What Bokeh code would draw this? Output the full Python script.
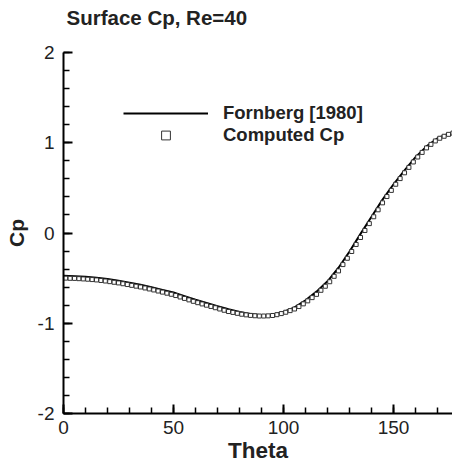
from bokeh.plotting import figure
from bokeh.models import Range1d, Legend, LegendItem, FixedTicker, PrintfTickFormatter, Title
from bokeh.embed import file_html
from bokeh.resources import INLINE

# Fornberg [1980] reference curve
theta_ref = [0, 5, 10, 15, 20, 25, 30, 35, 40, 45, 50, 55, 60, 65, 70, 75, 80, 85, 90,
             95, 100, 105, 110, 115, 120, 125, 130, 135, 140, 145, 150, 155, 160, 165,
             170, 175, 180]
cp_ref = [-0.475, -0.478, -0.485, -0.495, -0.51, -0.528, -0.55, -0.573, -0.60, -0.63,
          -0.66, -0.70, -0.74, -0.775, -0.81, -0.845, -0.875, -0.898, -0.91,
          -0.905, -0.875, -0.825, -0.745, -0.65, -0.535, -0.385, -0.205, -0.01, 0.18,
          0.37, 0.54, 0.695, 0.84, 0.96, 1.05, 1.10, 1.13]

# Computed Cp
theta_cmp = list(range(1, 180, 2))
cp_cmp = [-0.500, -0.502, -0.503, -0.506, -0.509, -0.512, -0.516, -0.520, -0.526, -0.532,
          -0.539, -0.546, -0.553, -0.562, -0.571, -0.580, -0.589, -0.598, -0.609, -0.620,
          -0.631, -0.643, -0.655, -0.667, -0.679, -0.693, -0.709, -0.725, -0.741, -0.757,
          -0.772, -0.786, -0.800, -0.814, -0.828, -0.842, -0.856, -0.870, -0.880, -0.890,
          -0.900, -0.907, -0.913, -0.917, -0.920, -0.920, -0.918, -0.914, -0.905, -0.893,
          -0.878, -0.860, -0.842, -0.815, -0.785, -0.752, -0.716, -0.680, -0.635, -0.590,
          -0.540, -0.480, -0.420, -0.350, -0.280, -0.205, -0.127, -0.050, 0.028, 0.104,
          0.180, 0.257, 0.334, 0.404, 0.472, 0.540, 0.603, 0.667, 0.727, 0.787,
          0.842, 0.893, 0.943, 0.982, 1.020, 1.050, 1.072, 1.093, 1.107, 1.120]

x_ticks = [0, 50, 100, 150]
y_ticks = [-2, -1, 0, 1, 2]

FONT = "Liberation Sans"
TXT = "#222222"

p = figure(width=452, height=468, output_backend="svg", toolbar_location=None,
           x_range=Range1d(0, 176.8), y_range=Range1d(-2, 2),
           min_border_left=63, min_border_right=0, min_border_top=52, min_border_bottom=55)

# spacer between the frame and the title, then the title itself
p.add_layout(Title(text=" ", text_font=FONT, text_font_size="17.5px", standoff=0), "above")
p.add_layout(Title(text="Surface Cp, Re=40", text_font=FONT, text_font_size="20.5px",
                   text_font_style="bold", text_color=TXT, align="left",
                   vertical_align="top", offset=3, standoff=0), "above")

p.grid.visible = False
p.outline_line_color = None
p.background_fill_color = "white"
p.border_fill_color = "white"

for ax in (p.xaxis[0], p.yaxis[0]):
    ax.axis_line_color = "black"
    ax.axis_line_width = 2
    ax.major_tick_in = 9
    ax.major_tick_out = 0
    ax.minor_tick_in = 6
    ax.minor_tick_out = 0
    ax.major_tick_line_width = 2
    ax.minor_tick_line_width = 1.5
    ax.major_tick_line_color = "black"
    ax.minor_tick_line_color = "black"
    ax.major_label_text_font = FONT
    ax.major_label_text_font_size = "19px"
    ax.major_label_text_color = TXT
    ax.axis_label_text_font = FONT
    ax.axis_label_text_font_style = "bold"
    ax.axis_label_text_color = TXT
    ax.formatter = PrintfTickFormatter(format="%d")

p.xaxis[0].ticker = FixedTicker(ticks=x_ticks, minor_ticks=list(range(0, 181, 10)))
p.yaxis[0].ticker = FixedTicker(ticks=y_ticks, minor_ticks=[round(-2 + 0.2 * i, 1) for i in range(21)])
p.xaxis[0].axis_label = "Theta"
p.yaxis[0].axis_label = "Cp"
p.xaxis[0].axis_label_text_font_size = "22.5px"
p.yaxis[0].axis_label_text_font_size = "21px"
p.xaxis[0].major_label_standoff = 7
p.yaxis[0].major_label_standoff = 9
p.xaxis[0].axis_label_standoff = 1
p.yaxis[0].axis_label_standoff = 7

r_line = p.line(theta_ref, cp_ref, line_color="black", line_width=2)
r_sq = p.scatter(theta_cmp, cp_cmp, marker="square", size=4, fill_color="white",
                 line_color="#333333", line_width=1)

legend = Legend(items=[LegendItem(label="Fornberg [1980]", renderers=[r_line]),
                       LegendItem(label="Computed Cp", renderers=[r_sq])],
                location=(60, 267), orientation="vertical")
legend.glyph_width = 85
legend.glyph_height = 22
legend.label_height = 22
legend.label_standoff = 15
legend.padding = 0
legend.margin = 0
legend.spacing = 0
legend.border_line_color = None
legend.background_fill_alpha = 0
legend.label_text_font = FONT
legend.label_text_font_size = "18.5px"
legend.label_text_font_style = "bold"
legend.label_text_color = TXT
p.add_layout(legend, "center")

open("out.html", "w").write(file_html(p, INLINE))
